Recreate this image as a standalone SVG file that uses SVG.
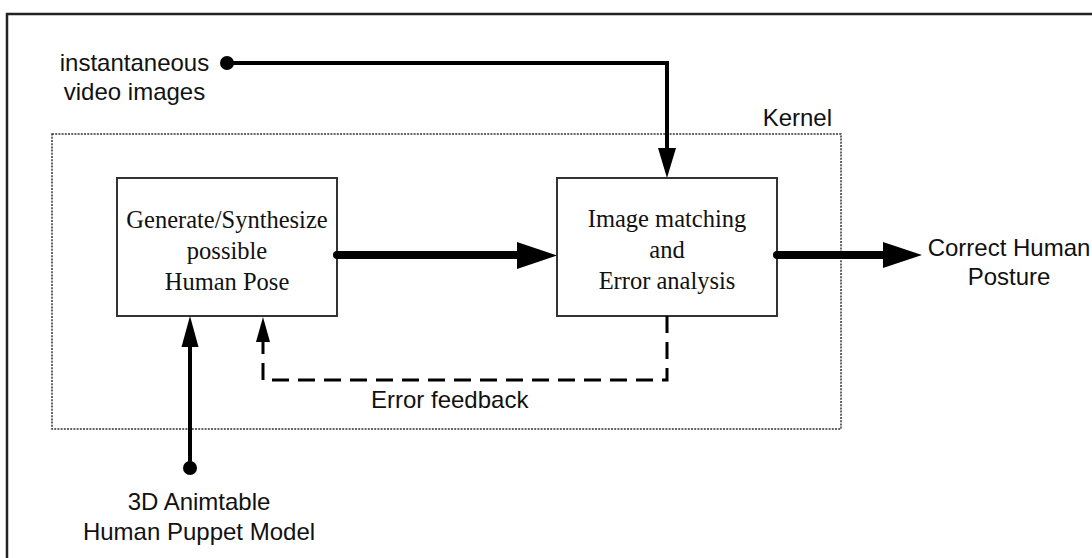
<svg xmlns="http://www.w3.org/2000/svg" width="1092" height="558" viewBox="0 0 1092 558">
<style>
.sans{font-family:"Liberation Sans",Arial,sans-serif;font-size:24px;fill:#111}
.serif{font-family:"Liberation Serif","Times New Roman",serif;font-size:24.5px;fill:#111}
.box{fill:#fff;stroke:#333;stroke-width:2}
.thin{fill:none;stroke:#000;stroke-width:4}
.thick{fill:none;stroke:#000;stroke-width:8;stroke-linecap:round}
.dash{fill:none;stroke:#000;stroke-width:3;stroke-dasharray:17 9}
</style>
<rect width="1092" height="558" fill="#fff"/>
<rect x="7" y="14" width="1200" height="700" fill="none" stroke="#222" stroke-width="2.5"/>
<g id="kernel">
<rect x="52" y="134" width="789" height="295" fill="none" stroke="#333" stroke-width="1.5" stroke-dasharray="2 1.2"/>
<text class="sans" x="832" y="126" text-anchor="end">Kernel</text>
</g>
<g id="generate">
<rect class="box" x="117" y="178" width="220" height="138"/>
<text class="serif" x="227" y="228" text-anchor="middle">Generate/Synthesize</text>
<text class="serif" x="227" y="259" text-anchor="middle">possible</text>
<text class="serif" x="227" y="290" text-anchor="middle">Human Pose</text>
</g>
<g id="matching">
<rect class="box" x="557" y="178" width="220" height="138"/>
<text class="serif" x="667" y="227" text-anchor="middle">Image matching</text>
<text class="serif" x="667" y="258" text-anchor="middle">and</text>
<text class="serif" x="667" y="289" text-anchor="middle">Error analysis</text>
</g>
<g id="video">
<text class="sans" x="134.5" y="71" text-anchor="middle">instantaneous</text>
<text class="sans" x="134.5" y="100" text-anchor="middle">video images</text>
</g>
<g id="puppet">
<text class="sans" x="199" y="510" text-anchor="middle">3D Animtable</text>
<text class="sans" x="199" y="540" text-anchor="middle">Human Puppet Model</text>
</g>
<g id="output">
<text class="sans" x="1009" y="256" text-anchor="middle">Correct Human</text>
<text class="sans" x="1009" y="285" text-anchor="middle">Posture</text>
</g>
<g id="connectors">
<circle cx="227" cy="63" r="7" fill="#000"/>
<path class="thin" d="M227 63 H667 V150"/>
<polygon points="658,148 676,148 667,178" fill="#000"/>
<path class="thick" d="M337 255 H520"/>
<polygon points="517,242 517,269 557,255.5" fill="#000"/>
<path class="thick" d="M777 255 H886"/>
<polygon points="883,242 883,268 922,255" fill="#000"/>
<circle cx="190" cy="468" r="7" fill="#000"/>
<path class="thin" d="M190 468 V345"/>
<polygon points="181.5,347 198.5,347 190,316" fill="#000"/>
<path class="dash" d="M667 316 V380 H263 V342"/>
<polygon points="256,342 270,342 263,317" fill="#000"/>
<text class="sans" x="371" y="408">Error feedback</text>
</g>
</svg>
